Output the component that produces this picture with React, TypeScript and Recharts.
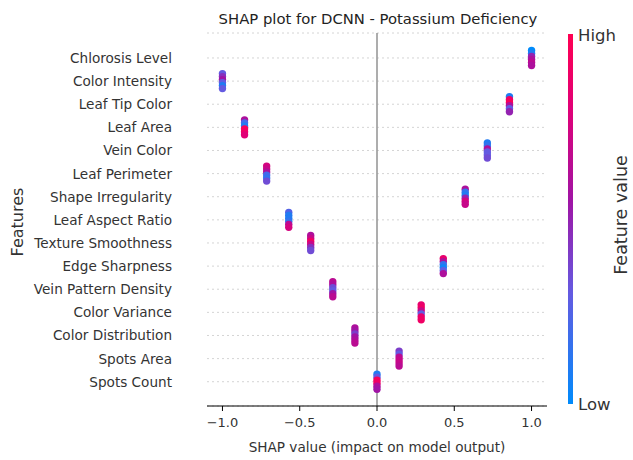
import React from "react";
import {
  ScatterChart,
  Scatter,
  XAxis,
  YAxis,
  CartesianGrid,
  ReferenceLine,
} from "recharts";

const features = [
  "Chlorosis Level",
  "Color Intensity",
  "Leaf Tip Color",
  "Leaf Area",
  "Vein Color",
  "Leaf Perimeter",
  "Shape Irregularity",
  "Leaf Aspect Ratio",
  "Texture Smoothness",
  "Edge Sharpness",
  "Vein Pattern Density",
  "Color Variance",
  "Color Distribution",
  "Spots Area",
  "Spots Count",
];

const shapValues = [
  1.0, -1.0, 0.857, -0.857, 0.714, -0.714, 0.571, -0.571, -0.429, 0.429,
  -0.286, 0.286, -0.143, 0.143, 0.0,
];

// normalized feature value of each stacked dot (top to bottom) per feature
const dotFeatureValues = [
  [0.0, 0.1, 0.5, 0.6, 0.65, 0.6],
  [0.3, 0.45, 0.55, 0.3, 0.1, 0.3],
  [0.1, 0.9, 0.95, 0.6, 0.3, 0.5],
  [0.6, 0.2, 0.1, 0.95, 0.9, 0.8],
  [0.1, 0.15, 0.6, 0.3, 0.3, 0.35],
  [0.75, 0.7, 0.6, 0.2, 0.15, 0.35],
  [0.6, 0.15, 0.1, 0.5, 0.75, 0.7],
  [0.25, 0.1, 0.1, 0.15, 0.65, 0.75],
  [0.6, 0.7, 0.9, 0.7, 0.45, 0.35],
  [0.85, 0.6, 0.15, 0.05, 0.3, 0.6],
  [0.65, 0.6, 0.35, 0.3, 0.55, 0.65],
  [0.85, 0.9, 0.7, 0.3, 0.85, 0.9],
  [0.6, 0.55, 0.4, 0.55, 0.6, 0.65],
  [0.4, 0.3, 0.65, 0.7, 0.7, 0.65],
  [0.1, 0.3, 0.95, 0.9, 0.6, 0.55],
];

const xTicks = [-1.0, -0.5, 0.0, 0.5, 1.0];

const colorStops: [number, number[]][] = [
  [0, [0, 139, 251]],
  [0.3, [100, 90, 225]],
  [0.55, [160, 20, 165]],
  [0.8, [225, 0, 118]],
  [1, [255, 0, 82]],
];

function colorFor(v: number): string {
  for (let i = 0; i < colorStops.length - 1; i++) {
    const [a, ca] = colorStops[i];
    const [b, cb] = colorStops[i + 1];
    if (v >= a && v <= b) {
      const t = (v - a) / (b - a);
      const c = ca.map((x, k) => Math.round(x + (cb[k] - x) * t));
      return `rgb(${c[0]},${c[1]},${c[2]})`;
    }
  }
  const c = colorStops[colorStops.length - 1][1];
  return `rgb(${c[0]},${c[1]},${c[2]})`;
}

const STACK_STEP = 0.13;

const data = features.flatMap((f, i) =>
  dotFeatureValues[i].map((v, j) => ({
    x: shapValues[i],
    y: i + (j - (dotFeatureValues[i].length - 1) / 2) * STACK_STEP,
    color: colorFor(v),
    feature: f,
  }))
);

const fmt = (v: number) => v.toFixed(1).replace("-", "\u2212");

const FONT = "'DejaVu Sans', sans-serif";

const Dot = (props: any) => {
  const { cx, cy, payload } = props;
  if (cx == null || cy == null) return null;
  return <circle cx={cx} cy={cy} r={3.7} fill={payload.color} />;
};

const FeatureTick = (props: any) => {
  const { x, y, payload } = props;
  return (
    <text
      x={x}
      y={y}
      textAnchor="end"
      dominantBaseline="central"
      fontFamily={FONT}
      fontSize={13.6}
      fill="#333"
    >
      {features[payload.value] ?? ""}
    </text>
  );
};

export default function App() {
  return (
    <div style={{ position: "absolute", left: 0, top: 0, width: 633, height: 460, background: "#fff" }}>
      <ScatterChart
        width={633}
        height={460}
        margin={{ top: 33, right: 86, bottom: 24, left: 147 }}
      >
        <CartesianGrid
          horizontal={true}
          vertical={false}
          stroke="#d4d4d4"
          strokeDasharray="2 3"
        />
        <ReferenceLine x={0} stroke="#999999" strokeWidth={1.6} />
        <XAxis
          type="number"
          dataKey="x"
          domain={[-1.1, 1.1]}
          ticks={xTicks}
          tickFormatter={fmt}
          allowDataOverflow
          stroke="#000"
          tickSize={5}
          tickMargin={7}
          height={30}
          tick={{ fill: "#333", fontSize: 13, fontFamily: FONT }}
        />
        <YAxis
          type="number"
          dataKey="y"
          domain={[-1.08, 15.05]}
          reversed
          allowDataOverflow
          ticks={features.map((_, i) => i)}
          interval={0}
          axisLine={false}
          tickLine={false}
          tickSize={0}
          tickMargin={35}
          width={60}
          tick={<FeatureTick />}
        />
        <Scatter data={data} shape={<Dot />} isAnimationActive={false} />
      </ScatterChart>
      <svg
        width={633}
        height={460}
        style={{ position: "absolute", left: 0, top: 0, pointerEvents: "none" }}
      >
        <defs>
          <linearGradient id="cbar" x1="0" y1="1" x2="0" y2="0">
            {colorStops.map(([o, c], k) => (
              <stop key={k} offset={o} stopColor={`rgb(${c[0]},${c[1]},${c[2]})`} />
            ))}
          </linearGradient>
        </defs>
        <text x={378} y={18} textAnchor="middle" dominantBaseline="central" fontFamily={FONT} fontSize={14.8} fill="#222">
          SHAP plot for DCNN - Potassium Deficiency
        </text>
        <text x={377} y={447} textAnchor="middle" dominantBaseline="central" fontFamily={FONT} fontSize={13.6} fill="#333">
          SHAP value (impact on model output)
        </text>
        <text
          x={17}
          y={222}
          textAnchor="middle"
          dominantBaseline="central"
          fontFamily={FONT}
          fontSize={16}
          fill="#333"
          transform="rotate(-90 17 222)"
        >
          Features
        </text>
        <rect x={568} y={34} width={5} height={370} fill="url(#cbar)" />
        <text x={578} y={35} dominantBaseline="central" fontFamily={FONT} fontSize={16.5} fill="#333">
          High
        </text>
        <text x={578} y={404} dominantBaseline="central" fontFamily={FONT} fontSize={16.5} fill="#333">
          Low
        </text>
        <text
          x={621}
          y={215}
          textAnchor="middle"
          dominantBaseline="central"
          fontFamily={FONT}
          fontSize={17.5}
          fill="#333"
          transform="rotate(-90 621 215)"
        >
          Feature value
        </text>
      </svg>
    </div>
  );
}
